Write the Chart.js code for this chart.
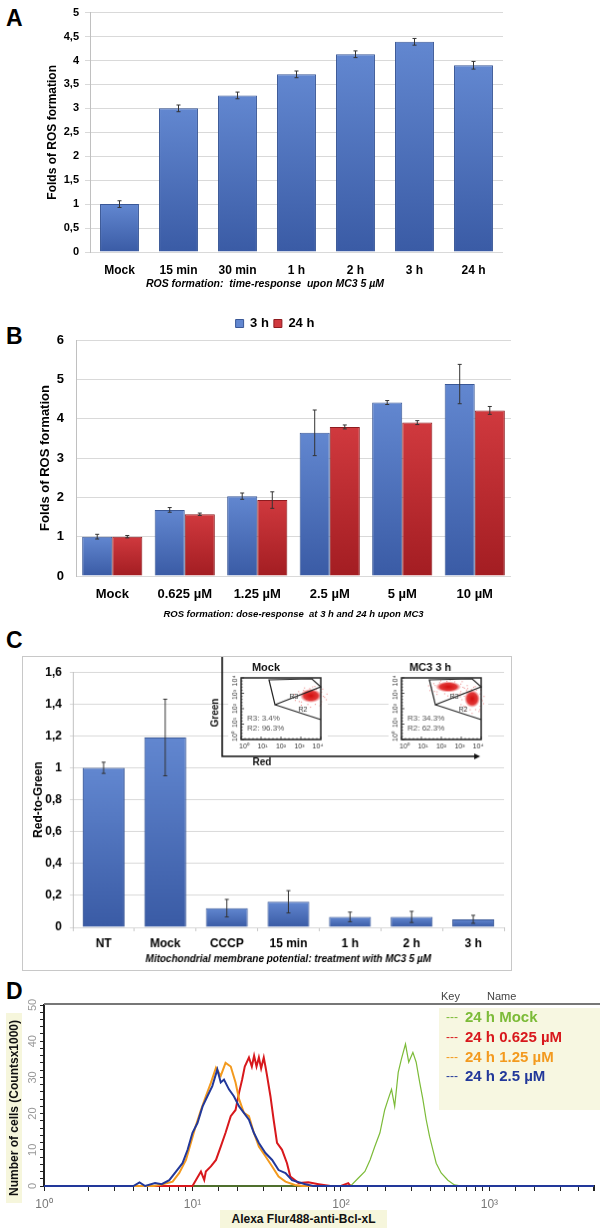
<!DOCTYPE html>
<html>
<head>
<meta charset="utf-8">
<title>ROS formation, MMP and Bcl-xL</title>
<script src="https://cdn.jsdelivr.net/npm/chart.js@4.4.1/dist/chart.umd.min.js"></script>
<style>
  body { margin: 0; background: #fff; font-family: 'Liberation Sans', Arial, sans-serif; }
  #page { position: relative; width: 600px; height: 1232px; overflow: hidden; }
  canvas { position: absolute; }
  .tag { position: absolute; left: 6px; font-size: 23px; font-weight: bold; line-height: 1; }
  #chartC { border: 1px solid #c8c8c8; }
  .beige { position: absolute; background: #f6f6dc; font-weight: bold; font-size: 12px; color: #111;
           white-space: nowrap; text-align: center; }
</style>
</head>
<body>
<div id="page">
  <div class="tag" style="top:7px">A</div>
  <div class="tag" style="top:325px">B</div>
  <div class="tag" style="top:629px">C</div>
  <div class="tag" style="top:980px">D</div>

  <canvas id="chartA" style="left:0;top:0" width="512" height="292"></canvas>
  <canvas id="chartB" style="left:39px;top:312px" width="481" height="310"></canvas>
  <canvas id="chartC" style="left:22px;top:656px" width="490" height="315"></canvas>
  <canvas id="chartD" style="left:0;top:990px" width="600" height="242"></canvas>

  <div class="beige" style="left:-81px;top:1100px;width:190px;height:16px;line-height:16px;transform:rotate(-90deg)">Number of cells (Countsx1000)</div>
  <div class="beige" style="left:220px;top:1210px;width:167px;height:18px;line-height:18px">Alexa Flur488-anti-Bcl-xL</div>
</div>

<script>
// ---- A: time-response upon MC3 5 uM
var timeLabels = ['Mock', '15 min', '30 min', '1 h', '2 h', '3 h', '24 h'];
var timeFolds  = [1.0, 3.0, 3.27, 3.71, 4.13, 4.39, 3.9];
var timeErr    = [0.07, 0.07, 0.07, 0.07, 0.07, 0.07, 0.08];

// ---- B: dose-response at 3 h and 24 h
var doseLabels = ['Mock', '0.625 µM', '1.25 µM', '2.5 µM', '5 µM', '10 µM'];
var dose3h     = [1.0, 1.68, 2.03, 3.64, 4.41, 4.88];
var dose3hErr  = [0.06, 0.06, 0.08, 0.58, 0.05, 0.5];
var dose24h    = [1.0, 1.57, 1.93, 3.79, 3.9, 4.21];
var dose24hErr = [0.03, 0.03, 0.21, 0.05, 0.05, 0.1];

// ---- C: mitochondrial membrane potential
var mmpLabels = ['NT', 'Mock', 'CCCP', '15 min', '1 h', '2 h', '3 h'];
var mmpRatio  = [1.0, 1.19, 0.12, 0.16, 0.065, 0.065, 0.05];
var mmpErr    = [0.035, 0.24, 0.055, 0.07, 0.03, 0.035, 0.025];

// ---- D: Bcl-xL histograms (fluorescence, counts x1000)
var mockX = [1, 100, 118, 131, 145, 157, 169, 183, 197, 208, 219, 230, 243, 255, 272, 286, 305, 321, 339, 356, 375, 395, 416, 438, 473, 525, 581, 650, 5060];
var mockY = [0, 0, 0.3, 2.2, 4, 7.2, 10.9, 14.7, 21, 24, 26.7, 22, 31.4, 35, 39.2, 34.2, 36.9, 34.2, 28.6, 24, 18.3, 13.7, 10, 6.3, 3.6, 1.6, 0.3, 0, 0];
var d0625X = [1, 10, 11.4, 12.0, 12.3, 13.3, 14.4, 15.5, 16.7, 18.1, 19.5, 20.6, 21.6, 22.5, 24.0, 25.1, 26.0, 27.0, 28.0, 29.0, 30.2, 31.0, 31.8, 33.5, 35.2, 37.1, 40.1, 43.3, 45.6, 51.9, 60.3, 70.8, 85, 100, 112, 116, 5060];
var d0625Y = [0, 0, 4, 1.7, 4, 5.4, 7.2, 10.9, 14.7, 19.3, 21, 25.8, 29.4, 33, 35.5, 33, 36, 33, 35.5, 32.5, 35.5, 33, 30.4, 24.8, 18.3, 11.9, 10, 6.3, 2.6, 0.8, 1.0, 0.5, 0, 0, 0.8, 0, 0];
var d125X = [1, 5.5, 6.3, 7.35, 8.15, 9.04, 9.75, 10.5, 11.4, 12.3, 13.3, 14.4, 15.5, 16.7, 18.1, 19.5, 20.6, 22.2, 24.0, 25.9, 28.0, 31.0, 34.4, 38.0, 42.3, 49.0, 55, 5060];
var d125Y = [0, 0, 0.5, 1.2, 3.6, 7.2, 11.9, 16.5, 21, 24.8, 28.5, 32.7, 30.4, 34, 33, 28.6, 24, 20.2, 19.3, 14.7, 10.9, 8.2, 5.4, 2.6, 1.2, 0.3, 0, 0];
var d25X = [1, 4.0, 4.4, 4.8, 5.6, 6.2, 6.98, 7.74, 8.57, 9.27, 10, 10.8, 11.7, 12.6, 13.6, 14.7, 15.5, 16.3, 17.6, 19.0, 20.6, 22.2, 24.0, 25.9, 28.0, 31.0, 34.4, 38.0, 42.3, 46.8, 57.5, 65, 5060];
var d25Y = [0, 0, 1, 0, 0.8, 0.5, 1.6, 4, 6.3, 10, 14.7, 17.4, 22, 24.8, 27.6, 32.2, 28.6, 29.4, 26.7, 24.8, 22, 20.2, 18.3, 14.7, 11.9, 9.1, 7.2, 4.4, 3.6, 1.6, 0.5, 0, 0];

var FONT = "'Liberation Sans', Arial, sans-serif";
Chart.defaults.font.family = FONT;
Chart.defaults.color = '#000';

function commaTick(v) {
  return (Math.round(v * 10) / 10).toString().replace('.', ',');
}

// vertical gradient for each bar, light on top, dark at the base
function barFill(light, dark) {
  return function(c) {
    if (c.type !== 'data') return dark;
    var y = c.chart.scales.y;
    if (!c.chart.chartArea || !y) return dark;
    var top = y.getPixelForValue(c.raw), bot = y.getPixelForValue(0);
    if (!(bot > top)) return dark;
    var g = c.chart.ctx.createLinearGradient(0, top, 0, bot);
    g.addColorStop(0, light);
    g.addColorStop(1, dark);
    return g;
  };
}

var errorBars = {
  id: 'errorBars',
  afterDatasetsDraw: function(chart) {
    var ctx = chart.ctx, y = chart.scales.y;
    chart.data.datasets.forEach(function(ds, i) {
      if (!ds.errors) return;
      chart.getDatasetMeta(i).data.forEach(function(bar, j) {
        var v = ds.data[j], e = ds.errors[j];
        var t = y.getPixelForValue(v + e), b = y.getPixelForValue(v - e);
        ctx.save();
        ctx.strokeStyle = '#333';
        ctx.lineWidth = 1;
        ctx.beginPath();
        ctx.moveTo(bar.x, t); ctx.lineTo(bar.x, b);
        ctx.moveTo(bar.x - 2, t); ctx.lineTo(bar.x + 2, t);
        ctx.moveTo(bar.x - 2, b); ctx.lineTo(bar.x + 2, b);
        ctx.stroke();
        ctx.restore();
      });
    });
  }
};

var BLUE_TOP = '#6287d0', BLUE_BOT = '#3a5ba5';
var RED_TOP = '#d0393e', RED_BOT = '#a31d22';

// ---------------- A
new Chart(document.getElementById('chartA'), {
  type: 'bar',
  data: {
    labels: timeLabels,
    datasets: [{
      label: 'ROS',
      data: timeFolds,
      errors: timeErr,
      backgroundColor: barFill(BLUE_TOP, BLUE_BOT),
      borderColor: '#3a5897',
      borderWidth: 1,
      barPercentage: 0.66,
      categoryPercentage: 1
    }]
  },
  options: {
    responsive: false,
    animation: false,
    layout: { padding: { right: 9 } },
    plugins: { legend: { display: false }, tooltip: { enabled: false } },
    scales: {
      x: {
        grid: { display: false, drawTicks: false },
        border: { display: false },
        ticks: { font: { size: 12, weight: 'bold' }, padding: 11 },
        title: {
          display: true,
          // trailing em spaces push the caption a little left of the plot centre, as in the figure
          text: 'ROS formation:  time-response  upon MC3 5 µM\u2003\u2003\u2003\u2003\u2003\u2003',
          font: { size: 10.5, style: 'italic', weight: 'bold' },
          padding: { top: 0, bottom: 2 }
        },
        afterFit: function(s) { s.height = 40; }
      },
      y: {
        min: 0, max: 5,
        ticks: { stepSize: 0.5, font: { size: 11, weight: 'bold' }, padding: 6, callback: commaTick },
        grid: { color: '#d9d9d9', tickLength: 5 },
        border: { color: '#c0c0c0' },
        title: {
          display: true,
          text: 'Folds of ROS formation',
          font: { size: 12, weight: 'bold' },
          padding: { top: 45, bottom: 0 }
        },
        afterFit: function(s) { s.width = 90; }
      }
    }
  },
  plugins: [errorBars]
});

// ---------------- B
new Chart(document.getElementById('chartB'), {
  type: 'bar',
  data: {
    labels: doseLabels,
    datasets: [
      {
        label: '3 h',
        data: dose3h,
        errors: dose3hErr,
        backgroundColor: barFill(BLUE_TOP, BLUE_BOT),
        borderColor: '#3a5897',
        borderWidth: 1,
        barPercentage: 1,
        categoryPercentage: 0.83
      },
      {
        label: '24 h',
        data: dose24h,
        errors: dose24hErr,
        backgroundColor: barFill(RED_TOP, RED_BOT),
        borderColor: '#8e1b1f',
        borderWidth: 1,
        barPercentage: 1,
        categoryPercentage: 0.83
      }
    ]
  },
  options: {
    responsive: false,
    animation: false,
    layout: { padding: { right: 9 } },
    plugins: {
      legend: {
        display: true,
        position: 'top',
        labels: { boxWidth: 8, boxHeight: 8, padding: 5, font: { size: 13, weight: 'bold' } }
      },
      tooltip: { enabled: false }
    },
    scales: {
      x: {
        grid: { display: false, drawTicks: false },
        border: { display: false },
        ticks: { font: { size: 13, weight: 'bold' }, padding: 11 },
        title: {
          display: true,
          text: 'ROS formation: dose-response  at 3 h and 24 h upon MC3',
          font: { size: 9.5, style: 'italic', weight: 'bold' },
          padding: { top: 0, bottom: 2 }
        },
        afterFit: function(s) { s.height = 46; }
      },
      y: {
        min: 0, max: 6,
        ticks: { stepSize: 1, font: { size: 13, weight: 'bold' }, padding: 12 },
        grid: { color: '#d9d9d9', drawTicks: false },
        border: { color: '#c0c0c0' },
        title: {
          display: true,
          text: 'Folds of ROS formation',
          font: { size: 13, weight: 'bold', lineHeight: 1 },
          padding: { top: 0, bottom: 0 }
        },
        afterFit: function(s) { s.width = 37; }
      }
    }
  },
  plugins: [errorBars]
});

// ---------------- C (with flow cytometry inset)
function drawMini(ctx, x0, y0, r3, r2, blobs) {
  var w = 80, h = 62, i;
  ctx.fillStyle = '#fff';
  ctx.fillRect(x0 - 13, y0 - 3, w + 20, h + 17);

  // cell clouds
  blobs.forEach(function(b) {
    ctx.save();
    ctx.translate(x0 + b[0], y0 + b[1]);
    ctx.scale(b[2], b[3]);
    var g = ctx.createRadialGradient(0, 0, 0, 0, 0, 1);
    g.addColorStop(0, 'rgba(210,0,0,0.95)');
    g.addColorStop(0.65, 'rgba(220,20,20,0.85)');
    g.addColorStop(1, 'rgba(235,70,70,0)');
    ctx.fillStyle = g;
    ctx.beginPath();
    ctx.arc(0, 0, 1, 0, Math.PI * 2);
    ctx.fill();
    ctx.restore();
    ctx.fillStyle = 'rgba(220,30,30,0.55)';
    for (i = 0; i < 26; i++) {
      var a = i * 2.39996, r = 1.1 + (i % 5) * 0.12;
      ctx.fillRect(x0 + b[0] + Math.cos(a) * b[2] * r, y0 + b[1] + Math.sin(a) * b[3] * r, 1, 1);
    }
  });

  // gates
  ctx.strokeStyle = '#222';
  ctx.lineWidth = 1.2;
  ctx.beginPath();
  ctx.moveTo(x0 + 28, y0 + 2); ctx.lineTo(x0 + 71, y0 + 1); ctx.lineTo(x0 + 80, y0 + 9);
  ctx.lineTo(x0 + 34, y0 + 27); ctx.closePath();
  ctx.moveTo(x0 + 34, y0 + 27); ctx.lineTo(x0 + 80, y0 + 42);
  ctx.stroke();

  // frame and minor ticks
  ctx.lineWidth = 1.5;
  ctx.strokeRect(x0, y0, w, h);
  ctx.lineWidth = 0.8;
  ctx.beginPath();
  for (i = 0; i <= 20; i++) {
    var tx = x0 + i * w / 20, ty = y0 + i * h / 20;
    ctx.moveTo(tx, y0 + h); ctx.lineTo(tx, y0 + h - (i % 5 === 0 ? 3 : 1.5));
    ctx.moveTo(x0, ty); ctx.lineTo(x0 + (i % 5 === 0 ? 3 : 1.5), ty);
  }
  ctx.stroke();

  // labels
  var sup = ['10⁰', '10¹', '10²', '10³', '10⁴'];
  ctx.fillStyle = '#333';
  ctx.font = '7px ' + FONT;
  ctx.textAlign = 'center';
  ctx.textBaseline = 'middle';
  for (i = 0; i < 5; i++) {
    ctx.fillText(sup[i], x0 + 3 + i * 18.5, y0 + h + 7);
    ctx.save();
    ctx.translate(x0 - 6, y0 + h - 3 - i * 14);
    ctx.rotate(-Math.PI / 2);
    ctx.fillText(sup[i], 0, 0);
    ctx.restore();
  }
  ctx.fillText('R3', x0 + 53, y0 + 19);
  ctx.fillText('R2', x0 + 62, y0 + 32);
  ctx.font = '8px ' + FONT;
  ctx.fillStyle = '#555';
  ctx.textAlign = 'left';
  ctx.fillText(r3, x0 + 6, y0 + 41);
  ctx.fillText(r2, x0 + 6, y0 + 51);
}

function arrowHead(ctx, x, y, dx, dy) {
  ctx.beginPath();
  ctx.moveTo(x, y);
  ctx.lineTo(x - dx * 6 + dy * 3, y - dy * 6 + dx * 3);
  ctx.lineTo(x - dx * 6 - dy * 3, y - dy * 6 - dx * 3);
  ctx.closePath();
  ctx.fill();
}

var inset = {
  id: 'inset',
  afterDraw: function(chart) {
    var ctx = chart.ctx;
    ctx.save();
    ctx.translate(-23, -657); // work in page coordinates
    drawMini(ctx, 242, 678, 'R3: 3.4%', 'R2: 96.3%', [[70, 18, 11, 7]]);
    drawMini(ctx, 403, 678, 'R3: 34.3%', 'R2: 62.3%', [[47, 9, 13, 5.5], [71, 21, 8, 9]]);

    ctx.strokeStyle = '#111';
    ctx.fillStyle = '#111';
    ctx.lineWidth = 1.6;
    ctx.beginPath();
    ctx.moveTo(223, 653); ctx.lineTo(223, 757); ctx.lineTo(478, 757);
    ctx.stroke();
    arrowHead(ctx, 223, 651, 0, -1);
    arrowHead(ctx, 482, 757, 1, 0);

    ctx.font = 'bold 11px ' + FONT;
    ctx.textAlign = 'center';
    ctx.textBaseline = 'middle';
    ctx.fillText('Mock', 267, 668);
    ctx.fillText('MC3 3 h', 432, 668);
    ctx.font = 'bold 10px ' + FONT;
    ctx.fillText('Red', 263, 763);
    ctx.save();
    ctx.translate(216, 713);
    ctx.rotate(-Math.PI / 2);
    ctx.fillText('Green', 0, 0);
    ctx.restore();
    ctx.restore();
  }
};

new Chart(document.getElementById('chartC'), {
  type: 'bar',
  data: {
    labels: mmpLabels,
    datasets: [{
      label: 'Red-to-Green',
      data: mmpRatio,
      errors: mmpErr,
      backgroundColor: barFill(BLUE_TOP, BLUE_BOT),
      borderColor: '#3a5897',
      borderWidth: 1,
      barPercentage: 0.68,
      categoryPercentage: 1
    }]
  },
  options: {
    responsive: false,
    animation: false,
    layout: { padding: { right: 7 } },
    plugins: { legend: { display: false }, tooltip: { enabled: false } },
    scales: {
      x: {
        grid: { drawOnChartArea: false, tickLength: 4, color: '#c8c8c8' },
        border: { display: false },
        ticks: { font: { size: 12, weight: 'bold' }, padding: 5 },
        title: {
          display: true,
          text: 'Mitochondrial membrane potential: treatment with MC3 5 µM',
          font: { size: 10, style: 'italic', weight: 'bold' },
          padding: { top: 0, bottom: 5 }
        },
        afterFit: function(s) { s.height = 43; }
      },
      y: {
        min: 0, max: 1.6,
        ticks: { stepSize: 0.2, font: { size: 12, weight: 'bold' }, padding: 8, callback: commaTick },
        grid: { color: '#d9d9d9', tickLength: 3 },
        border: { color: '#c0c0c0' },
        title: {
          display: true,
          text: 'Red-to-Green',
          font: { size: 12, weight: 'bold' },
          padding: { top: 8, bottom: 0 }
        },
        afterFit: function(s) { s.width = 50; }
      }
    }
  },
  plugins: [errorBars, inset]
});

// ---------------- D
function curve(label, xs, ys, color, width) {
  return {
    label: label,
    data: xs.map(function(x, i) { return { x: x, y: ys[i] }; }),
    showLine: true,
    borderColor: color,
    backgroundColor: color,
    borderWidth: width,
    pointRadius: 0,
    tension: 0,
    clip: 3
  };
}

var keyBox = {
  id: 'keyBox',
  afterDraw: function(chart) {
    var ctx = chart.ctx, a = chart.chartArea;
    ctx.save();
    ctx.strokeStyle = '#777';
    ctx.lineWidth = 2;
    ctx.beginPath();
    ctx.moveTo(a.left, a.top - 1);
    ctx.lineTo(chart.width, a.top - 1);
    ctx.stroke();
    ctx.fillStyle = '#f7f7e1';
    ctx.fillRect(439, a.top + 3, chart.width - 439, 102);
    ctx.textBaseline = 'middle';
    ctx.textAlign = 'left';
    ctx.fillStyle = '#444';
    ctx.font = '11px ' + FONT;
    ctx.fillText('Key', 441, 7);
    ctx.fillText('Name', 487, 7);
    chart.data.datasets.slice().reverse().forEach(function(ds, i) {
      var y = 28 + i * 19.7;
      ctx.fillStyle = ds.borderColor;
      ctx.font = '12px ' + FONT;
      ctx.fillText('---', 446, y);
      ctx.font = 'bold 15px ' + FONT;
      ctx.fillText(ds.label, 465, y);
    });
    ctx.restore();
  }
};

var sup = { 0: '⁰', 1: '¹', 2: '²', 3: '³' };

new Chart(document.getElementById('chartD'), {
  type: 'scatter',
  data: {
    datasets: [
      curve('24 h 2.5 µM', d25X, d25Y, '#22389a', 2),
      curve('24 h 1.25 µM', d125X, d125Y, '#f39a1e', 2),
      curve('24 h 0.625 µM', d0625X, d0625Y, '#d8181c', 2),
      curve('24 h Mock', mockX, mockY, '#7cbb38', 1.2)
    ]
  },
  options: {
    responsive: false,
    animation: false,
    layout: { padding: { top: 15, right: 3 } },
    plugins: { legend: { display: false }, tooltip: { enabled: false } },
    scales: {
      x: {
        type: 'logarithmic',
        min: 1, max: 5060,
        grid: { drawOnChartArea: false, tickLength: 5, color: '#222' },
        border: { color: '#222', width: 2 },
        ticks: {
          autoSkip: false, maxRotation: 0, color: '#777', font: { size: 12 }, padding: 6,
          callback: function(v) {
            var l = Math.log10(v), r = Math.round(l);
            return Math.abs(l - r) < 1e-6 && sup[r] ? '10' + sup[r] : '';
          }
        },
        afterFit: function(s) { s.height = 46; }
      },
      y: {
        min: 0, max: 50,
        grid: { drawOnChartArea: false, tickLength: 4, color: '#222' },
        border: { color: '#222', width: 2 },
        ticks: {
          stepSize: 2, autoSkip: false, color: '#999', font: { size: 11 },
          minRotation: 90, maxRotation: 90, crossAlign: 'center', padding: 1,
          callback: function(v) { return v % 10 === 0 ? String(v) : ''; }
        },
        afterFit: function(s) { s.width = 44; }
      }
    }
  },
  plugins: [keyBox]
});
</script>
</body>
</html>
